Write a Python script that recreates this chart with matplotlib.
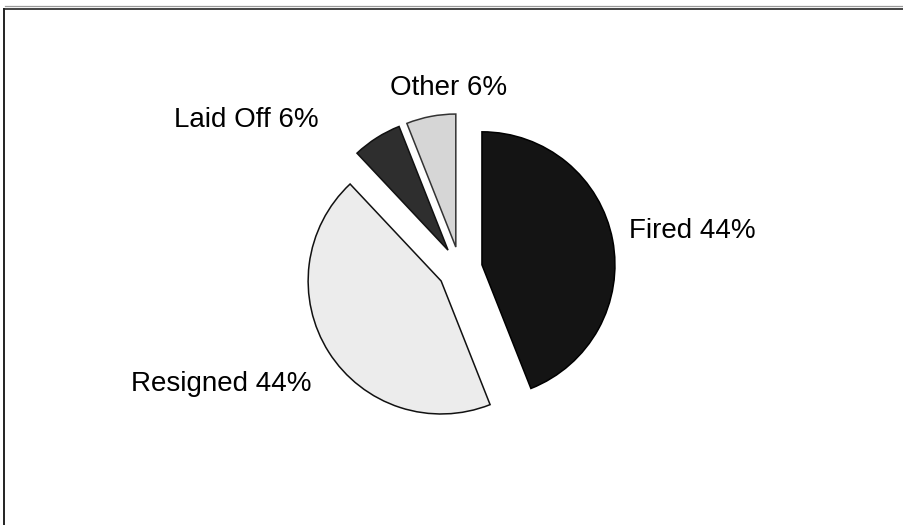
import matplotlib.pyplot as plt
from matplotlib.lines import Line2D

plt.rcParams['font.family'] = ['Liberation Sans', 'DejaVu Sans']

# reasons for leaving
categories = ['Fired', 'Resigned', 'Laid Off', 'Other']
shares = [44, 44, 6, 6]
labels = [f'{c} {v}%' for c, v in zip(categories, shares)]

face_colors = ['#141414', '#ececec', '#2e2e2e', '#d6d6d6']
edge_colors = ['#000000', '#111111', '#111111', '#333333']

# label anchor points (radius units) and alignment
label_pos = [(1.27, 0.233), (-1.113, -0.917), (-1.06, 1.068), (0.353, 1.308)]
label_ha = ['left', 'right', 'right', 'right']

W, H = 904, 525
R = 133.0          # pie radius in pixels
cx, cy = 460, 269  # pie centre, pixels from top-left

fig = plt.figure(figsize=(W / 100, H / 100), dpi=100)
ax = fig.add_axes([0, 0, 1, 1])
ax.set_xlim(-cx / R, (W - cx) / R)
ax.set_ylim(-(H - cy) / R, cy / R)
ax.axis('off')

wedges, texts = ax.pie(shares, labels=labels, startangle=90, counterclock=False,
                       explode=[0.168] * len(shares), colors=face_colors,
                       radius=1.0, frame=True,
                       wedgeprops=dict(linewidth=1.1),
                       textprops=dict(fontsize=20, color='black'))
ax.set_xlim(-cx / R, (W - cx) / R)
ax.set_ylim(-(H - cy) / R, cy / R)
ax.axis('off')

for w, ec in zip(wedges, edge_colors):
    w.set_edgecolor(ec)

for t, p, ha in zip(texts, label_pos, label_ha):
    t.set_position(p)
    t.set_ha(ha)
    t.set_va('baseline')

# window-style border along the top and left edges
fig.add_artist(Line2D([5 / W, 1], [1 - 6 / H, 1 - 6 / H], transform=fig.transFigure,
                      color='#9a9a9a', linewidth=0.9))
fig.add_artist(Line2D([4 / W, 1], [1 - 9 / H, 1 - 9 / H], transform=fig.transFigure,
                      color='#444444', linewidth=1.4))
fig.add_artist(Line2D([4.5 / W, 4.5 / W], [1 - 9 / H, 0], transform=fig.transFigure,
                      color='#222222', linewidth=1.4))

fig.savefig('out.png', dpi=100)
